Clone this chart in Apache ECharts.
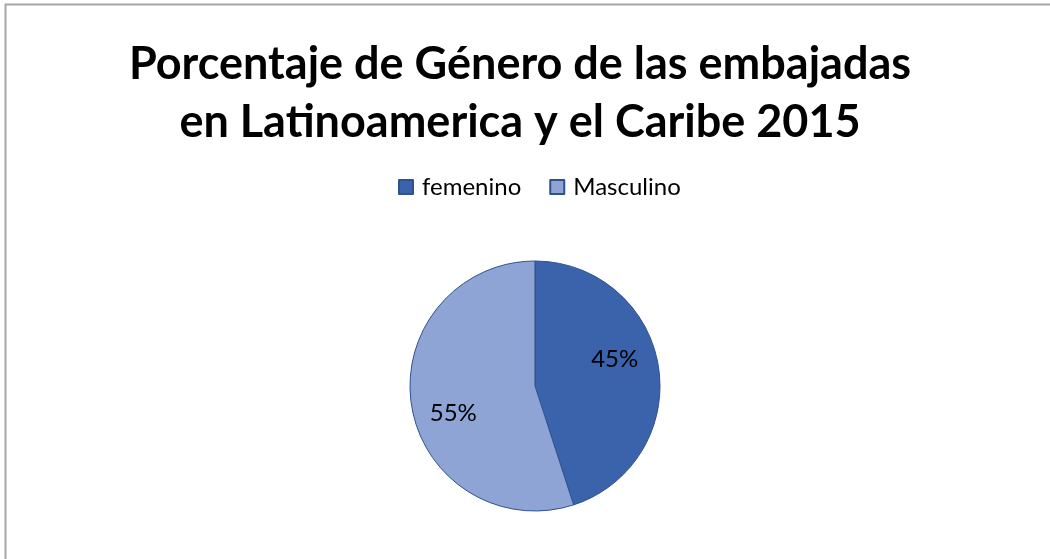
<!DOCTYPE html>
<html>
<head>
<meta charset="utf-8">
<script src="https://cdn.jsdelivr.net/npm/echarts@6/dist/echarts.min.js"></script>
<style>
    html, body { margin: 0; padding: 0; background: #fff; }
    #chart { width: 1050px; height: 559px; }
</style>
</head>
<body>
<div id="chart"></div>
<script>
    var categories = ['femenino', 'Masculino'];
    var values = [45, 55];
    var colors = ['#3A63AC', '#8EA4D4'];

    var myChart = echarts.init(document.getElementById('chart'));

    var pieData = categories.map(function (name, i) {
        return { value: values[i], name: name, itemStyle: { color: colors[i] } };
    });

    // push the inside labels a bit outward, like the original
    var labelShift = [[15, -16], [-17, 17]];

    myChart.setOption({
        animation: false,
        backgroundColor: '#fff',
        title: {
            text: 'Porcentaje de Género de las embajadas\nen Latinoamerica y el Caribe 2015',
            top: 30,
            left: 515,
            textAlign: 'center',
            textStyle: {
                fontFamily: 'Lato',
                fontWeight: 'bold',
                fontSize: 45,
                lineHeight: 58,
                color: '#000'
            }
        },
        legend: {
            top: 170,
            left: 393,
            padding: 5,
            itemWidth: 14,
            itemHeight: 14,
            itemGap: 28,
            icon: 'rect',
            textStyle: { fontFamily: 'Lato', fontSize: 24, color: '#000', padding: [0, 0, 0, 4] },
            data: categories
        },
        graphic: [{
            type: 'polyline',
            shape: { points: [[5.5, 600], [5.5, 4.5], [1100, 4.5]] },
            style: { stroke: '#a6a6a6', lineWidth: 2, fill: null }
        }],
        series: [{
            name: 'Género',
            type: 'pie',
            radius: 125,
            center: [535, 386],
            startAngle: 90,
            clockwise: true,
            itemStyle: { borderColor: '#2F528F', borderWidth: 1 },
            label: {
                show: true,
                position: 'inside',
                formatter: '{d}%',
                fontFamily: 'Lato',
                fontSize: 24,
                color: '#000'
            },
            labelLayout: function (params) {
                var s = labelShift[params.dataIndex];
                return { dx: s[0], dy: s[1] };
            },
            emphasis: { disabled: true },
            data: pieData
        }]
    });
</script>
</body>
</html>
